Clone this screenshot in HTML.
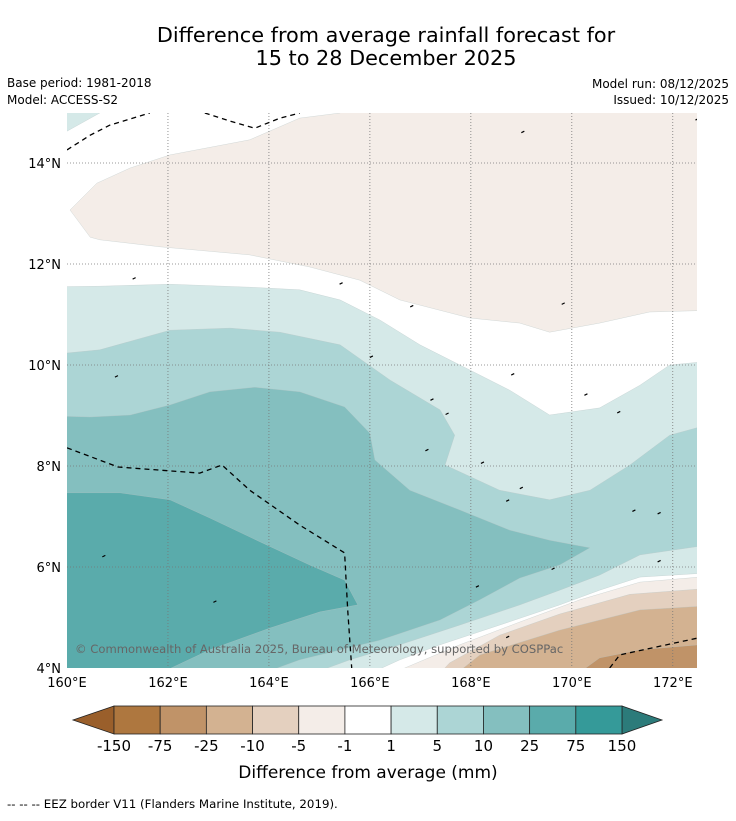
<!DOCTYPE html>
<html><head><meta charset="utf-8"><style>
body{margin:0;background:#fff;font-family:"Liberation Sans","DejaVu Sans",sans-serif}
</style></head><body>
<svg id="chart" width="736" height="816" xmlns="http://www.w3.org/2000/svg" font-family="DejaVu Sans, Liberation Sans, sans-serif">
<text x="386" y="42" text-anchor="middle" font-size="20.8">Difference from average rainfall forecast for</text>
<text x="386" y="65" text-anchor="middle" font-size="20.8">15 to 28 December 2025</text>
<text x="7" y="87" font-size="12">Base period: 1981-2018</text>
<text x="7" y="104" font-size="12">Model: ACCESS-S2</text>
<text x="729" y="88" font-size="12" text-anchor="end">Model run: 08/12/2025</text>
<text x="729" y="104" font-size="12" text-anchor="end">Issued: 10/12/2025</text>
<defs><clipPath id="mc"><rect x="67" y="113" width="630" height="555"/></clipPath></defs>
<g id="map" clip-path="url(#mc)"><rect x="67" y="113" width="630" height="555" fill="#fff"/></g>
<g id="axes"></g>
<g id="cbar"></g>
<text x="368" y="778" text-anchor="middle" font-size="17">Difference from average (mm)</text>
<text x="7" y="808" font-size="11.8">--  --  -- EEZ border V11 (Flanders Marine Institute, 2019).</text>
</svg>
<script>
const lonMin=160, lonMax=172.48, latMin=4, latMax=14.99;
const lonTicks=[160,162,164,166,168,170,172];
const latTicks=[4,6,8,10,12,14];
const cbLabels=["-150","-75","-25","-10","-5","-1","1","5","10","25","75","150"];
const cbColors=["#ae773f","#c09368","#d3b291","#e4d0bf","#f4ede8","#ffffff","#d5e9e8","#acd5d5","#84bfbf","#5aabab","#359a99"];
const lowColor="#9a5f2b", highColor="#2c7b7a";
// contour regions [lon,lat]
const regionTopBrown=[[159,16],[165.41,16],[165.41,14.99],[164.61,14.89],[163.62,14.46],[162.04,14.16],[161.25,13.9],[160.59,13.6],[160.06,13.07],[160.46,12.53],[160.65,12.48],[161.84,12.34],[163.62,12.18],[164.81,11.94],[165.8,11.68],[166.59,11.29],[167.98,10.93],[168.97,10.83],[169.56,10.65],[170.55,10.83],[171.54,11.05],[173,11.09],[173,16]];
const regionTopTeal=[[159,16],[160.65,14.99],[160,14.63],[159,14.63]];
const regionT1=[[159,11.54],[160.65,11.56],[162.04,11.6],[163.62,11.54],[164.61,11.49],[165.41,11.29],[166.2,10.89],[166.99,10.4],[167.98,9.9],[168.77,9.5],[169.56,9.01],[170.55,9.15],[171.35,9.6],[171.94,10],[173,10.1],[173,5.9],[171.35,5.8],[170.55,5.54],[169.76,5.25],[168.57,4.85],[167.39,4.46],[166.59,4.16],[165.8,3.8],[159,3.8]];
const regionT2=[[159,10.14],[160.65,10.3],[162.04,10.69],[163.23,10.73],[164.22,10.65],[165.41,10.4],[166.4,9.7],[167.39,9.11],[167.68,8.61],[167.49,8.02],[168.57,7.52],[169.56,7.33],[170.36,7.52],[171.15,8.02],[171.94,8.61],[173,8.9],[173,6.48],[171.35,6.24],[170.55,5.84],[169.76,5.54],[168.97,5.25],[167.78,4.85],[166.59,4.46],[165.6,4.16],[164.61,3.8],[159,3.8]];
const regionT3=[[159,9.01],[160.46,8.97],[161.25,9.01],[162.04,9.21],[162.83,9.47],[163.72,9.56],[164.61,9.47],[165.5,9.17],[166,8.65],[166.1,8.12],[166.79,7.52],[167.78,7.13],[168.77,6.73],[169.56,6.53],[170.36,6.38],[169.76,6.04],[168.97,5.78],[168.18,5.35],[167.39,4.95],[166.2,4.55],[164.61,4.16],[163.62,3.8],[159,3.8]];
const regionT4=[[159,7.47],[161.05,7.47],[162.04,7.33],[162.83,6.97],[163.82,6.5],[164.81,6.04],[165.5,5.74],[165.76,5.25],[165.01,5.11],[164.02,4.79],[162.83,4.36],[161.64,3.8],[159,3.8]];
const regionB1=[[173,5.84],[171.35,5.7],[170.16,5.35],[168.97,4.91],[167.78,4.46],[166.69,4.0],[166.4,3.8],[173,3.8]];
const regionB2=[[173,5.6],[171.15,5.46],[169.76,5.07],[168.57,4.65],[167.58,4.1],[167.3,3.8],[173,3.8]];
const regionB3=[[173,5.25],[171.35,5.15],[169.76,4.75],[168.18,4.26],[167.6,3.8],[173,3.8]];
const regionB4=[[173,4.5],[171.35,4.36],[170.55,4.2],[170.0,3.8],[173,3.8]];
const eezTop1=[[160,14.26],[160.46,14.55],[160.85,14.75],[161.64,14.99]];
const eezTop2=[[162.73,14.99],[163.23,14.83],[163.72,14.69],[164.22,14.89],[164.61,14.99]];
const eezMid=[[160,8.36],[161.01,7.98],[162.63,7.86],[163.07,8.02],[163.62,7.52],[164.61,6.83],[165.5,6.28],[165.56,5.15],[165.64,4]];
const eezBR=[[170.75,4],[170.95,4.26],[172.48,4.59]];
const islands=[[169,14.6],[161.3,11.7],[165.4,11.6],[166.8,11.15],[169.8,11.2],[160.95,9.76],[166,10.15],[167.2,9.3],[167.5,9.02],[168.8,9.8],[170.25,9.4],[170.9,9.05],[167.1,8.3],[168.2,8.05],[168.97,7.55],[168.7,7.3],[171.2,7.1],[171.7,7.05],[171.7,6.1],[169.6,5.95],[168.1,5.6],[162.9,5.3],[168.7,4.6],[160.7,6.2],[172.45,14.85]];
const X=l=>67+(l-lonMin)/(lonMax-lonMin)*630;
const Y=l=>668-(l-latMin)/(latMax-latMin)*555;
const NS="http://www.w3.org/2000/svg";
const map=document.getElementById('map'),axes=document.getElementById('axes'),cbar=document.getElementById('cbar');
function mk(t,a,p){const e=document.createElementNS(NS,t);for(const k in a)e.setAttribute(k,a[k]);p.appendChild(e);return e;}
function pts(r){return r.map(p=>X(p[0]).toFixed(1)+','+Y(p[1]).toFixed(1)).join(' ');}
const layers=[[regionTopBrown,"#f4ede8","region-dry-1-5"],[regionTopTeal,"#d5e9e8","region-wet-topleft"],[regionT1,"#d5e9e8","region-wet-1-5"],[regionT2,"#acd5d5","region-wet-5-10"],[regionT3,"#84bfbf","region-wet-10-25"],[regionT4,"#5aabab","region-wet-25-75"],[regionB1,"#f4ede8","region-dry-sw-1-5"],[regionB2,"#e4d0bf","region-dry-5-10"],[regionB3,"#d3b291","region-dry-10-25"],[regionB4,"#c09368","region-dry-25-75"]];
for(const [r,c,n] of layers){
 const e=mk('polygon',{points:pts(r),fill:c,stroke:'#b8c4c4','stroke-width':0.5,'stroke-opacity':0.6},map);
 
 
}
for(const ln of lonTicks.slice(1)){const e=mk('line',{x1:X(ln),x2:X(ln),y1:113,y2:668,stroke:'#777','stroke-width':0.8,'stroke-dasharray':'1,2'},map);
 
 }
for(const lt of latTicks.slice(1)){const e=mk('line',{x1:67,x2:697,y1:Y(lt),y2:Y(lt),stroke:'#777','stroke-width':0.8,'stroke-dasharray':'1,2'},map);
 
 }
for(const l of [eezTop1,eezTop2,eezMid,eezBR]){const e=mk('polyline',{points:pts(l),fill:'none',stroke:'#000','stroke-width':1.3,'stroke-dasharray':'5,4'},map);
 
 }
for(const p of islands){const e=mk('line',{x1:X(p[0]),y1:Y(p[1]),x2:X(p[0])+3,y2:Y(p[1])-1.5,stroke:'#000','stroke-width':1.2},map);
 
 }
const cr=mk('text',{x:75,y:653,'font-size':11.6,fill:'#666'},map);cr.textContent='© Commonwealth of Australia 2025, Bureau of Meteorology, supported by COSPPac';


for(const ln of lonTicks){const t=mk('text',{x:X(ln),y:687,'font-size':13,'text-anchor':'middle'},axes);t.textContent=ln+'°E';
 
 }
for(const lt of latTicks){const t=mk('text',{x:61,y:Y(lt)+5,'font-size':13,'text-anchor':'end'},axes);t.textContent=lt+'°N';
 
 }
const cx0=114,cx1=622,cy=706,ch=28,w=(cx1-cx0)/cbColors.length;
const lt=mk('polygon',{points:`${cx0},${cy} ${73},${cy+ch/2} ${cx0},${cy+ch}`,fill:lowColor,stroke:'#222','stroke-width':0.8},cbar);


const ht=mk('polygon',{points:`${cx1},${cy} ${662},${cy+ch/2} ${cx1},${cy+ch}`,fill:highColor,stroke:'#222','stroke-width':0.8},cbar);


cbColors.forEach((c,i)=>{const r=mk('rect',{x:cx0+i*w,y:cy,width:w,height:ch,fill:c,stroke:'#222','stroke-width':0.8},cbar);
 
 });
cbLabels.forEach((s,i)=>{const t=mk('text',{x:cx0+i*w,y:751,'font-size':15,'text-anchor':'middle'},cbar);t.textContent=s;
 
 });
</script>
</body></html>
